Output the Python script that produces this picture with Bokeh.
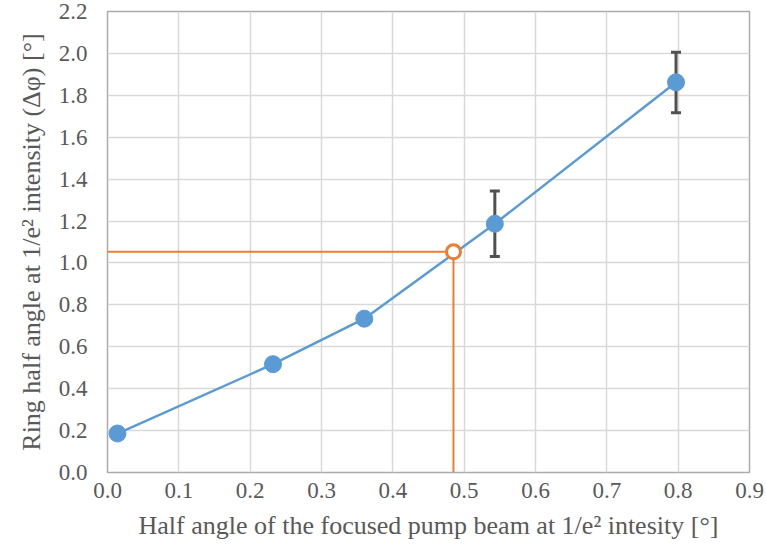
from bokeh.plotting import figure
from bokeh.models import ColumnDataSource, FixedTicker, Whisker, TeeHead, Range1d
from bokeh.embed import file_html
from bokeh.resources import INLINE

# Data
beam_half_angle = [0.014, 0.232, 0.360, 0.543, 0.797]
ring_half_angle = [0.186, 0.517, 0.734, 1.187, 1.862]
err_x = [0.543, 0.797]
err_upper = [1.343, 2.005]
err_lower = [1.031, 1.717]
mark_x = [0.485]
mark_y = [1.053]
x_ticks = [0.0, 0.1, 0.2, 0.3, 0.4, 0.5, 0.6, 0.7, 0.8, 0.9]
y_ticks = [0.0, 0.2, 0.4, 0.6, 0.8, 1.0, 1.2, 1.4, 1.6, 1.8, 2.0, 2.2]
x_tick_labels = {0.0: "0.0"}
y_tick_labels = {0.0: "0.0", 1.0: "1.0", 2.0: "2.0"}

FONT = "Liberation Serif"
TXT = "#595959"
BLUE = "#5B9BD5"
ORANGE = "#ED7D31"

p = figure(width=766, height=557, output_backend="svg", toolbar_location=None,
           x_range=Range1d(0, 0.9), y_range=Range1d(0, 2.2))
p.min_border_left = 107
p.min_border_right = 17
p.min_border_top = 11
p.min_border_bottom = 85
p.background_fill_color = "white"
p.border_fill_color = "white"
p.outline_line_color = "#ABABAB"
p.outline_line_width = 1.5

xa = p.xaxis[0]
ya = p.yaxis[0]
xa.ticker = FixedTicker(ticks=x_ticks)
ya.ticker = FixedTicker(ticks=y_ticks)
xa.major_label_overrides = x_tick_labels
ya.major_label_overrides = y_tick_labels

xa.major_label_text_font = FONT
ya.major_label_text_font = FONT
xa.major_label_text_font_size = "23px"
ya.major_label_text_font_size = "23px"
xa.major_label_text_color = TXT
ya.major_label_text_color = TXT
xa.axis_label_text_font = FONT
ya.axis_label_text_font = FONT
xa.axis_label_text_font_size = "26px"
ya.axis_label_text_font_size = "26px"
xa.axis_label_text_color = TXT
ya.axis_label_text_color = TXT
xa.axis_label_text_font_style = "normal"
ya.axis_label_text_font_style = "normal"
for ax in (xa, ya):
    ax.axis_line_alpha = 0
    ax.major_tick_in = 0
    ax.major_tick_out = 0
    ax.minor_tick_in = 0
    ax.minor_tick_out = 0

xa.major_label_standoff = 10
ya.major_label_standoff = 20
xa.axis_label_standoff = 10
ya.axis_label_standoff = 10

xa.axis_label = "Half angle of the focused pump beam at 1/e\u00b2 intesity [\u00b0]"
ya.axis_label = "Ring half angle at 1/e\u00b2 intensity (\u0394\u03c6) [\u00b0]"

p.xgrid.grid_line_color = "#D9D9D9"
p.ygrid.grid_line_color = "#D9D9D9"
p.xgrid.grid_line_width = 1.5
p.ygrid.grid_line_width = 1.5

# Orange guide lines
p.segment(x0=[0.0], y0=mark_y, x1=mark_x, y1=mark_y, line_color=ORANGE, line_width=2)
p.segment(x0=mark_x, y0=[0.0], x1=mark_x, y1=mark_y, line_color=ORANGE, line_width=2)

# Error bars
esrc = ColumnDataSource(dict(x=err_x, upper=err_upper, lower=err_lower))
w = Whisker(base="x", upper="upper", lower="lower", source=esrc,
            line_color="#505050", line_width=3,
            upper_head=TeeHead(size=10, line_color="#505050", line_width=3),
            lower_head=TeeHead(size=10, line_color="#505050", line_width=3))
p.add_layout(w)

# Main series
p.line(beam_half_angle, ring_half_angle, line_color=BLUE, line_width=2.5)
p.scatter(beam_half_angle, ring_half_angle, size=17, fill_color=BLUE, line_color=BLUE)

# Marked point
p.scatter(mark_x, mark_y, size=14, fill_color="white", line_color=ORANGE, line_width=3)

open("out.html", "w").write(file_html(p, INLINE))
